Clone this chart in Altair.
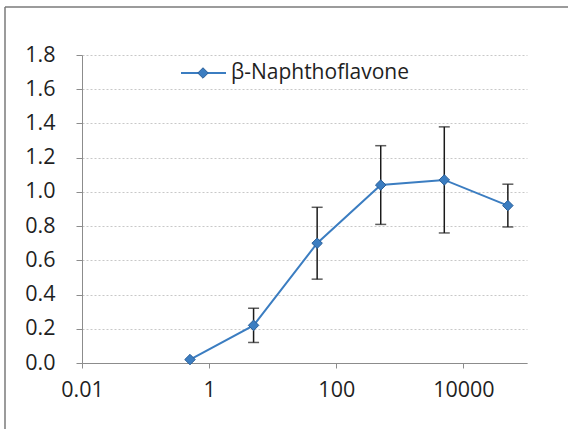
import altair as alt
import pandas as pd

series_name = "β-Naphthoflavone"
conc = [0.5, 5, 50, 500, 5000, 50000]
values = [0.02, 0.22, 0.70, 1.04, 1.07, 0.92]
errors = [0.0, 0.10, 0.21, 0.23, 0.31, 0.125]
x_ticks = [0.01, 1, 100, 10000]
y_ticks = [0.0, 0.2, 0.4, 0.6, 0.8, 1.0, 1.2, 1.4, 1.6, 1.8]

df = pd.DataFrame({"x": conc, "y": values, "e": errors})
df["lo"] = df["y"] - df["e"]
df["hi"] = df["y"] + df["e"]
eb = df[df["e"] > 0]

FONT = "Open Sans"
TXT = "#1f1f1f"
BLUE = "#3B7DC1"

xs = alt.Scale(type="log", domain=[0.01, 100000], nice=False)
ys = alt.Scale(domain=[0, 1.8], nice=False, zero=False)

xaxis = alt.Axis(values=x_ticks, format="~g", title=None, grid=False,
                 domainColor="#8c8c8c", tickColor="#8c8c8c", tickSize=5,
                 labelFont=FONT, labelFontSize=21.5, labelColor=TXT, labelPadding=11,
                 labelFlush=False, labelOverlap=False)
yaxis = alt.Axis(values=y_ticks, format=".1f", title=None,
                 grid=True, gridColor="#c8c8c8", gridDash=[2, 2], gridWidth=1,
                 domainColor="#8c8c8c", tickColor="#8c8c8c", tickSize=6,
                 labelFont=FONT, labelFontSize=21.5, labelColor=TXT, labelPadding=21,
                 labelOverlap=False, labelBound=False, labelFlush=False)


def X(field="x"):
    return alt.X(f"{field}:Q", scale=xs, axis=xaxis, title=None)


def Y(field):
    return alt.Y(f"{field}:Q", scale=ys, axis=yaxis, title=None)


base = alt.Chart(df)

line = base.mark_line(color=BLUE, strokeWidth=2).encode(x=X(), y=Y("y"))

err = alt.Chart(eb).mark_rule(color="#1a1a1a", strokeWidth=1.5).encode(
    x=X(), y=Y("lo"), y2="hi:Q")
cap_hi = alt.Chart(eb).mark_tick(color="#1a1a1a", orient="horizontal", size=11,
                                 thickness=1.5).encode(x=X(), y=Y("hi"))
cap_lo = alt.Chart(eb).mark_tick(color="#1a1a1a", orient="horizontal", size=11,
                                 thickness=1.5).encode(x=X(), y=Y("lo"))

pts = base.mark_point(shape="diamond", filled=True, size=110, color=BLUE,
                      stroke="#2a5f99", strokeWidth=1, opacity=1).encode(x=X(), y=Y("y"))

leg_df = pd.DataFrame({"name": [series_name]})
leg_line = alt.Chart(leg_df).mark_rule(color=BLUE, strokeWidth=2).encode(
    x=alt.value(99), x2=alt.value(144), y=alt.value(18))
leg_pt = alt.Chart(leg_df).mark_point(shape="diamond", filled=True, size=110, color=BLUE,
                                      stroke="#2a5f99", strokeWidth=1, opacity=1).encode(
    x=alt.value(121), y=alt.value(18))
leg_txt = alt.Chart(leg_df).mark_text(align="left", baseline="middle", font=FONT,
                                      fontSize=21, color=TXT).encode(
    x=alt.value(149), y=alt.value(18), text="name:N")

border_left = alt.Chart(leg_df).mark_rule(color="#7a7a7a", strokeWidth=1.5, clip=False).encode(
    x=alt.value(-77), y=alt.value(-48), y2=alt.value(400))
border_top = alt.Chart(leg_df).mark_rule(color="#7a7a7a", strokeWidth=1.5, clip=False).encode(
    x=alt.value(-77), x2=alt.value(520), y=alt.value(-48))

chart = alt.layer(line, err, cap_hi, cap_lo, pts, leg_line, leg_pt, leg_txt,
                  border_left, border_top).properties(
    width=445, height=308,
    padding={"left": 82, "top": 55, "right": 41, "bottom": 66},
    autosize=alt.AutoSizeParams(type="none"),
    background="white",
).configure_view(stroke=None)

chart.save("out.html", embed_options={"renderer": "svg", "actions": False})
